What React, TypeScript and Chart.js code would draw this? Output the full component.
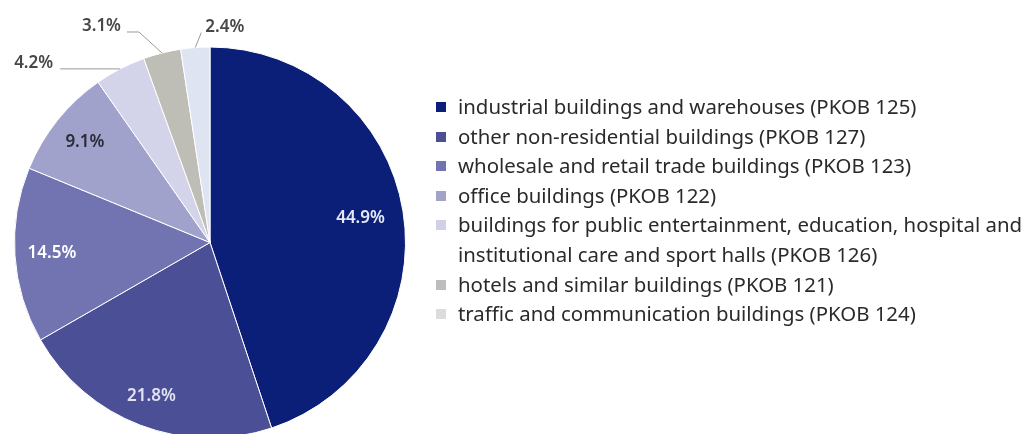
import { useEffect, useRef } from "react";
import { Chart, registerables } from "chart.js";

Chart.register(...registerables);

const categories = [
  "industrial buildings and warehouses (PKOB 125)",
  "other non-residential buildings (PKOB 127)",
  "wholesale and retail trade buildings (PKOB 123)",
  "office buildings (PKOB 122)",
  "buildings for public entertainment, education, hospital and\ninstitutional care and sport halls (PKOB 126)",
  "hotels and similar buildings (PKOB 121)",
  "traffic and communication buildings (PKOB 124)",
];

const shares = [44.9, 21.8, 14.5, 9.1, 4.2, 3.1, 2.4];

const sliceColors = ["#0b1e78", "#4b5096", "#7274b2", "#a0a2cc", "#d3d4ea", "#bebeb7", "#dfe4f2"];
const legendColors = ["#0b1e78", "#4b5096", "#7274b2", "#a3a3c9", "#d0d0e8", "#bdbdbd", "#dcdcdc"];
const labelColors = ["#e4e9f7", "#e2e2f1", "#ffffff", "#2c2c38", "#474747", "#474747", "#474747"];

// label placement: inside (fraction of radius) or outside (leader line: elbow offset, horizontal run, gap)
const labelPlacement: any[] = [
  { inside: 0.78 },
  { inside: 0.84 },
  { inside: 0.81 },
  { inside: 0.82 },
  { elbow: [-8, 0], run: -52, gap: 7 },
  { elbow: [-23, -21], run: -12, gap: 6 },
  { elbow: [6, -15], run: 0, gap: 4 },
];

const FONT = "'Noto Sans', 'Open Sans', sans-serif";

const labelPlugin = {
  id: "sliceLabels",
  afterDatasetsDraw(chart: any) {
    const ctx = chart.ctx;
    const meta = chart.getDatasetMeta(0);
    ctx.save();
    ctx.font = `600 17px ${FONT}`;
    meta.data.forEach((arc: any, i: number) => {
      const { x, y, startAngle, endAngle, outerRadius } = arc.getProps(
        ["x", "y", "startAngle", "endAngle", "outerRadius"],
        true
      );
      const mid = (startAngle + endAngle) / 2;
      const text = shares[i].toFixed(1) + "%";
      const p = labelPlacement[i];
      ctx.fillStyle = labelColors[i];
      if (p.inside !== undefined) {
        const r = outerRadius * p.inside;
        ctx.textAlign = "center";
        ctx.textBaseline = "middle";
        ctx.fillText(text, x + Math.cos(mid) * r, y + Math.sin(mid) * r);
      } else {
        const ex = x + Math.cos(mid) * outerRadius;
        const ey = y + Math.sin(mid) * outerRadius;
        const bx = ex + p.elbow[0];
        const by = ey + p.elbow[1];
        const hx = bx + p.run;
        ctx.strokeStyle = "#9a9a9a";
        ctx.lineWidth = 1;
        ctx.beginPath();
        ctx.moveTo(ex, ey);
        ctx.lineTo(bx, by);
        ctx.lineTo(hx, by);
        ctx.stroke();
        ctx.textBaseline = "alphabetic";
        if (p.run < 0) {
          ctx.textAlign = "right";
          ctx.fillText(text, hx - p.gap, by - 1);
        } else {
          ctx.textAlign = "left";
          ctx.fillText(text, hx + p.gap, by - 1);
        }
      }
    });
    ctx.restore();
  },
};

export default function App() {
  const canvasRef = useRef<HTMLCanvasElement | null>(null);

  useEffect(() => {
    if (!canvasRef.current) return;
    const chart = new Chart(canvasRef.current, {
      type: "pie",
      data: {
        labels: categories,
        datasets: [
          {
            data: shares,
            backgroundColor: sliceColors,
            borderColor: "#ffffff",
            borderWidth: 1,
            hoverOffset: 0,
          },
        ],
      },
      options: {
        animation: false,
        responsive: true,
        maintainAspectRatio: false,
        layout: { padding: { left: 14, top: 46.5, right: 629, bottom: 3.5 } },
        plugins: {
          legend: { display: false },
          tooltip: { enabled: false },
        },
      },
      plugins: [labelPlugin],
    });
    return () => chart.destroy();
  }, []);

  return (
    <div
      style={{
        position: "fixed",
        left: 0,
        top: 0,
        width: 1035,
        height: 434,
        overflow: "hidden",
        background: "#ffffff",
      }}
    >
      <div style={{ position: "absolute", left: 0, top: 0, width: 1035, height: 442 }}>
        <canvas ref={canvasRef} />
      </div>
      <div
        style={{
          position: "absolute",
          left: 436,
          top: 92,
          fontFamily: FONT,
          fontSize: 20.4,
          lineHeight: "29.6px",
          color: "#2a2a2a",
        }}
      >
        {categories.map((c, i) => (
          <div key={i} style={{ position: "relative", paddingLeft: 22, whiteSpace: "pre" }}>
            <span
              style={{
                position: "absolute",
                left: 0,
                top: 10,
                width: 10,
                height: 10,
                background: legendColors[i],
              }}
            />
            {c}
          </div>
        ))}
      </div>
    </div>
  );
}
